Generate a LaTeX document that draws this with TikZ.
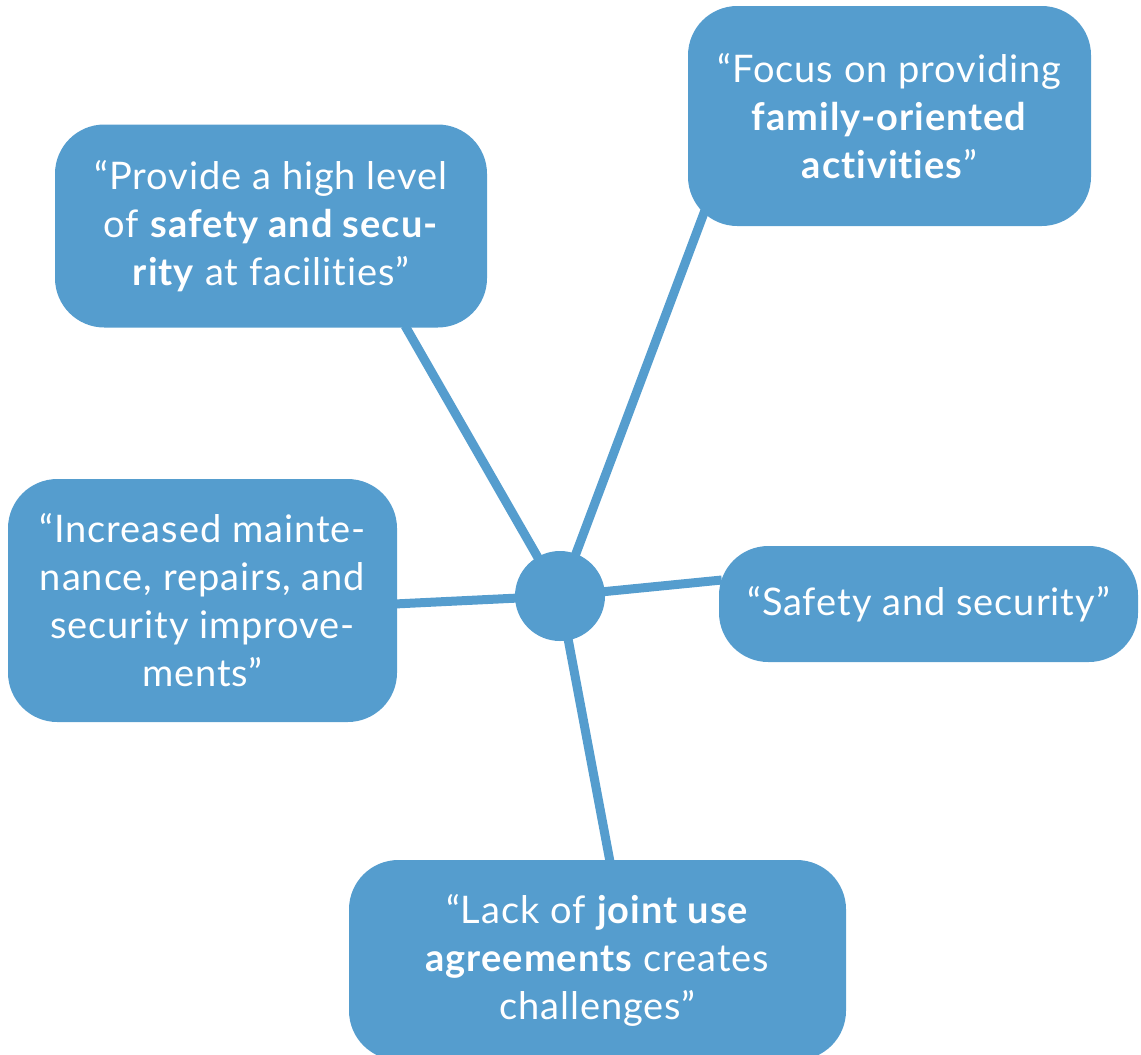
\documentclass[tikz,border=0pt]{standalone}
\usepackage{fontspec}
\setmainfont[Ligatures=NoCommon,LetterSpace=2.5]{Lato}
\usetikzlibrary{calc}
\definecolor{boxblue}{HTML}{559DCE}
\begin{document}
\begin{tikzpicture}[x=0.75pt,y=-0.75pt,
  bubble/.style={fill=boxblue,rounded corners=37pt,text=white,align=center,
    font=\fontsize{28.5}{36}\selectfont,inner sep=0pt},
  hubstyle/.style={circle,fill=boxblue,minimum size=90*0.75pt,inner sep=0pt},
  link/.style={draw=boxblue,line width=6.75pt}]
\useasboundingbox (0,0) rectangle (1141,1054);
% invisible anchors first
\node[bubble,minimum width=432*0.75pt,minimum height=203*0.75pt,fill=none,text=white] (b1) at (271,226) {};
\node[bubble,minimum width=403*0.75pt,minimum height=220*0.75pt,fill=none] (b2) at (889.5,116) {};
\node[bubble,minimum width=389*0.75pt,minimum height=243*0.75pt,fill=none] (b3) at (202.5,600.5) {};
\node[bubble,minimum width=419*0.75pt,minimum height=116*0.75pt,fill=none] (b4) at (928.5,604) {};
\node[bubble,minimum width=497*0.75pt,minimum height=200*0.75pt,fill=none] (b5) at (597.5,960) {};
\node[hubstyle,fill=none] (hub) at (560,596) {};
\coordinate (e1) at ($(b1.south)+(134,-2)$);
\coordinate (e2) at ($(b2.south west)+(18,-18)$);
\coordinate (e3) at ($(b3.east)+(-3,3.5)$);
\coordinate (e4) at ($(b4.west)+(3,-24)$);
\coordinate (e5) at ($(b5.north)+(12.5,2)$);
\draw[link] (hub.center) -- (e1);
\draw[link] (hub.center) -- (e2);
\draw[link] (hub.center) -- (e3);
\draw[link] (hub.center) -- (e4);
\draw[link] (hub.center) -- (e5);
% visible boxes on top of the connectors
\node[bubble,minimum width=432*0.75pt,minimum height=203*0.75pt] (t1) at (b1.center)
  {“Provide a high level\\of \textbf{safety and secu-}\\\textbf{rity} at facilities”};
\node[bubble,minimum width=403*0.75pt,minimum height=220*0.75pt] (t2) at (b2.center)
  {“Focus on providing\\\textbf{family-oriented}\\\textbf{activities}”};
\node[bubble,minimum width=389*0.75pt,minimum height=243*0.75pt] (t3) at (b3.center)
  {“Increased mainte-\\nance, repairs, and\\security improve-\\ments”};
\node[bubble,minimum width=419*0.75pt,minimum height=116*0.75pt] (t4) at (b4.center)
  {“Safety and security”};
\node[bubble,minimum width=497*0.75pt,minimum height=200*0.75pt] (t5) at (b5.center)
  {“Lack of \textbf{joint use}\\\textbf{agreements} creates\\challenges”};
\node[hubstyle] (th) at (hub.center) {};
\end{tikzpicture}
\end{document}
